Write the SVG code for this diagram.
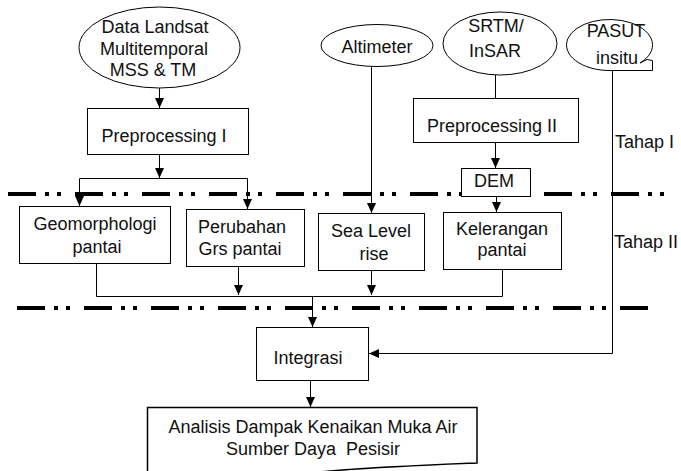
<svg xmlns="http://www.w3.org/2000/svg" width="681" height="471" viewBox="0 0 681 471">
<defs>
<style>
.box{fill:#fff;stroke:#000;stroke-width:1}
.t{font-family:"Liberation Sans",Arial,sans-serif;font-size:18px;fill:#111;text-anchor:middle}
.tl{font-family:"Liberation Sans",Arial,sans-serif;font-size:18px;fill:#111;text-anchor:start}
.c{fill:none;stroke:#000;stroke-width:1}
.sep{fill:none;stroke:#000;stroke-width:4;stroke-dasharray:28 9 4 8 4 14}
</style>
<marker id="ah" markerWidth="10" markerHeight="9" refX="10" refY="4.5" orient="auto" markerUnits="userSpaceOnUse">
<path d="M0,0 L10,4.5 L0,9 Z" fill="#000"/>
</marker>
</defs>
<rect width="681" height="471" fill="#fff"/>

<g id="separators">
<line class="sep" x1="8" y1="194" x2="666" y2="194"/>
<line class="sep" x1="17" y1="308" x2="649" y2="308"/>
</g>

<g id="connectors">
<line class="c" x1="159.5" y1="88" x2="159.5" y2="108" marker-end="url(#ah)"/>
<line class="c" x1="159.5" y1="155" x2="159.5" y2="178" marker-end="url(#ah)"/>
<polyline class="c" points="79.5,206 79.5,178.5 247.5,178.5 247.5,209"/>
<line class="c" x1="79.5" y1="190" x2="79.5" y2="206" marker-end="url(#ah)"/>
<line class="c" x1="247.5" y1="190" x2="247.5" y2="209" marker-end="url(#ah)"/>
<line class="c" x1="371.5" y1="66" x2="371.5" y2="213" marker-end="url(#ah)"/>
<line class="c" x1="495.5" y1="75" x2="495.5" y2="98"/>
<line class="c" x1="495.5" y1="143" x2="495.5" y2="168" marker-end="url(#ah)"/>
<line class="c" x1="496.5" y1="197" x2="496.5" y2="212" marker-end="url(#ah)"/>
<polyline class="c" points="612.5,70 612.5,353.5 369,353.5" marker-end="url(#ah)"/>
<polyline class="c" points="96.5,264 96.5,296.5 502.5,296.5 502.5,270"/>
<line class="c" x1="238.5" y1="267" x2="238.5" y2="295" marker-end="url(#ah)"/>
<line class="c" x1="371.5" y1="271" x2="371.5" y2="295" marker-end="url(#ah)"/>
<line class="c" x1="312.5" y1="296" x2="312.5" y2="327" marker-end="url(#ah)"/>
<line class="c" x1="310.5" y1="381" x2="310.5" y2="407" marker-end="url(#ah)"/>
</g>

<g id="n-landsat">
<ellipse class="box" cx="159.5" cy="47.5" rx="80.5" ry="40.5"/>
<text class="t" x="155" y="33">Data Landsat</text>
<text class="t" x="154" y="55">Multitemporal</text>
<text class="t" x="153" y="76">MSS &amp; TM</text>
</g>

<g id="n-pre1">
<rect class="box" x="87.5" y="108.5" width="161" height="46"/>
<text class="t" x="164" y="142">Preprocessing I</text>
</g>

<g id="n-altimeter">
<ellipse class="box" cx="377" cy="45.5" rx="56" ry="21"/>
<text class="t" x="377" y="53">Altimeter</text>
</g>

<g id="n-srtm">
<ellipse class="box" cx="500" cy="43.5" rx="57" ry="31.5"/>
<text class="t" x="496" y="32">SRTM/</text>
<text class="t" x="495" y="57">InSAR</text>
</g>

<g id="n-pasut">
<path class="box" d="M610,70.5 A43,25.5 0 1,1 640,63 L647,59.5 L652.5,60.5 L652.5,70.5 Z"/>
<text class="t" x="616" y="37">PASUT</text>
<text class="t" x="617" y="64">insitu</text>
</g>

<g id="n-pre2">
<rect class="box" x="413.5" y="98.5" width="165" height="44"/>
<text class="t" x="492" y="132">Preprocessing II</text>
</g>

<g id="n-dem">
<rect class="box" x="461.5" y="168.5" width="69" height="28"/>
<text class="t" x="494" y="187">DEM</text>
</g>

<g id="n-geo">
<rect class="box" x="19.5" y="206.5" width="151" height="57"/>
<text class="t" x="95" y="230">Geomorphologi</text>
<text class="t" x="97" y="253">pantai</text>
</g>

<g id="n-perubahan">
<rect class="box" x="186.5" y="209.5" width="118" height="57"/>
<text class="t" x="242" y="233">Perubahan</text>
<text class="t" x="240" y="255">Grs pantai</text>
</g>

<g id="n-sealevel">
<rect class="box" x="318.5" y="213.5" width="106" height="57"/>
<text class="t" x="371" y="237">Sea Level</text>
<text class="t" x="374" y="260">rise</text>
</g>

<g id="n-kelerangan">
<rect class="box" x="443.5" y="212.5" width="118" height="57"/>
<text class="t" x="502" y="235">Kelerangan</text>
<text class="t" x="502" y="256">pantai</text>
</g>

<g id="n-integrasi">
<rect class="box" x="256.5" y="327.5" width="112" height="53"/>
<text class="t" x="308" y="364">Integrasi</text>
</g>

<g id="n-analisis">
<path class="box" style="stroke-width:1.5" d="M147.5,407.5 H477 V463 C430,465 380,467 330,471 C260,477 200,482 147.5,480 Z"/>
<text class="t" x="313" y="433">Analisis Dampak Kenaikan Muka Air</text>
<text class="t" x="313" y="455" xml:space="preserve">Sumber Daya  Pesisir</text>
</g>

<g id="labels">
<text class="tl" x="615" y="148">Tahap I</text>
<text class="tl" x="614" y="248">Tahap II</text>
</g>
</svg>
